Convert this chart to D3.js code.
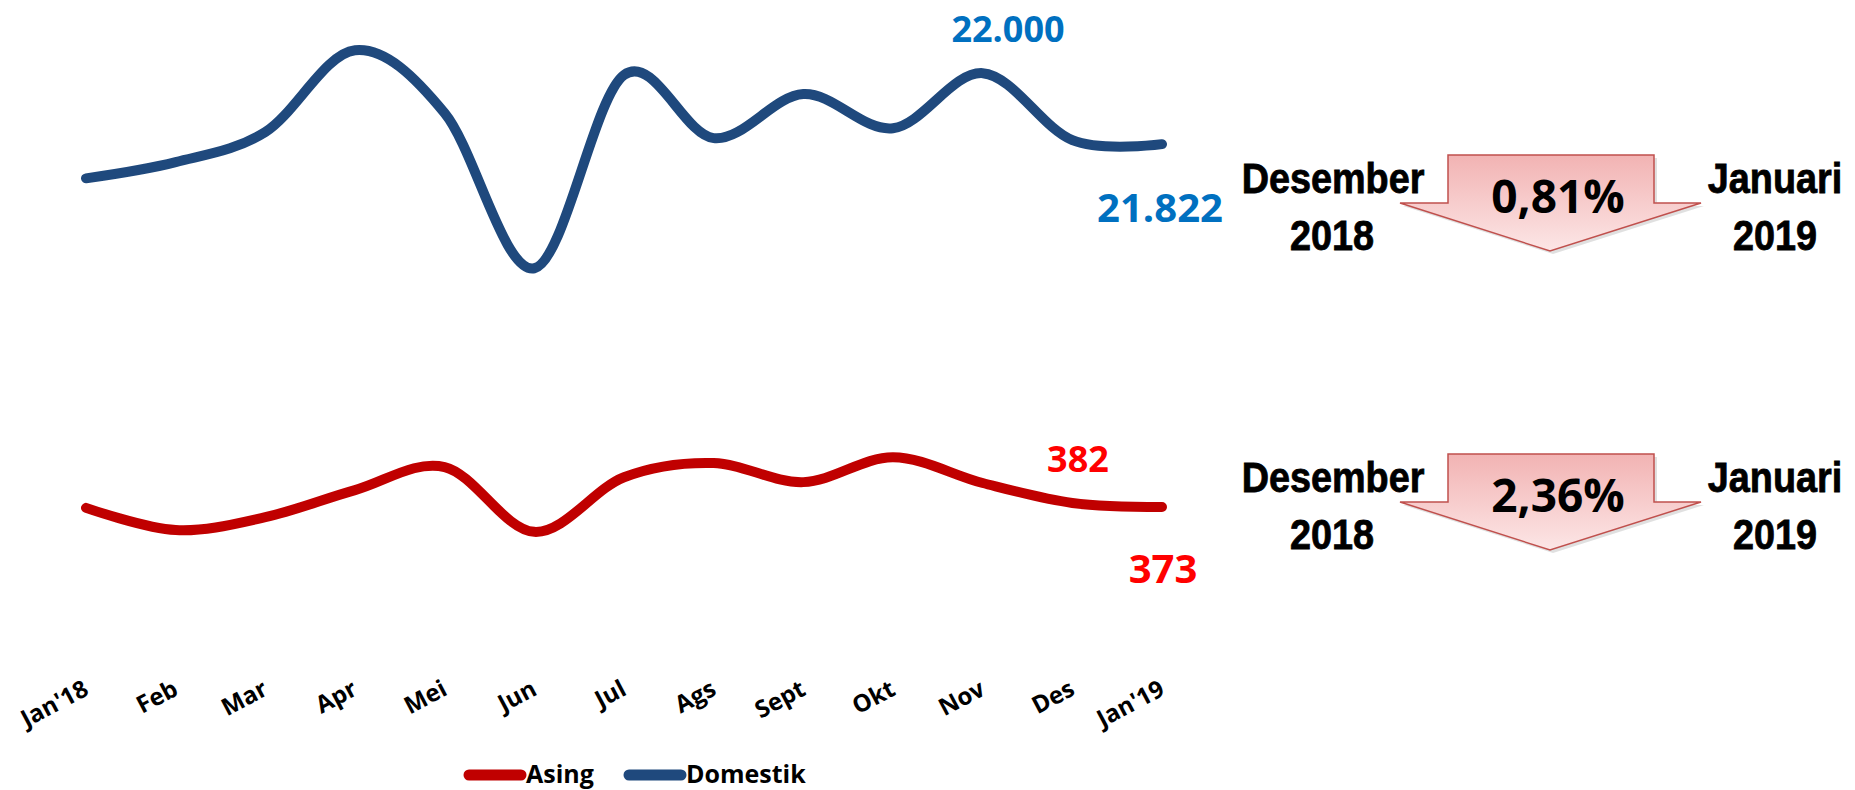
<!DOCTYPE html>
<html>
  <head>
    <meta charset="utf-8">
    <script src="https://d3js.org/d3.v7.min.js"></script>
    <style>
      body { margin: 0; background: white; }
      .tick-label { font-family: "Open Sans", sans-serif; font-weight: bold; font-size: 24px; fill: black; }
      .val { font-family: "Open Sans", sans-serif; font-weight: bold; }
      .side { font-family: "Liberation Sans", sans-serif; font-weight: bold; font-size: 42px; fill: black; stroke: black; stroke-width: 0.8px; }
      .pct { font-family: "Open Sans", sans-serif; font-weight: bold; font-size: 46px; fill: black; }
      .legend { font-family: "Open Sans", sans-serif; font-weight: bold; font-size: 25px; fill: black; }
    </style>
  </head>
  <body>
    <div id="chart"></div>
<script>

var months = ["Jan'18", "Feb", "Mar", "Apr", "Mei", "Jun", "Jul", "Ags", "Sept", "Okt", "Nov", "Des", "Jan'19"];
var domestik = [20300, 21020, 22360, 26000, 23200, 16300, 24900, 22090, 24050, 22530, 24980, 22000, 21822];
var asing = [371, 321, 350, 411, 463, 317, 440, 472, 429, 485, 427, 382, 373];

var domLabels = ["22.000", "21.822"];
var asingLabels = ["382", "373"];
var pctLabels = ["0,81%", "2,36%"];
var fromLabel = ["Desember", "2018"];
var toLabel = ["Januari", "2019"];
var legendNames = ["Asing", "Domestik"];

var width = 1855, height = 790;
var blue = "#1F497D", red = "#C00000";

var svg = d3.select("#chart").append("svg")
  .attr("width", width)
  .attr("height", height);

var x = d3.scalePoint().domain(months).range([86, 1162]);
var yDom = d3.scaleLinear().domain([16000, 26500]).range([275, 39]);
var yAsing = d3.scaleLinear().domain([300, 500]).range([539.4, 450.6]);

var curve = d3.curveCardinal.tension(0);

function drawLine(values, y, color) {
  var line = d3.line()
    .x(function(d, i) { return x(months[i]); })
    .y(function(d) { return y(d); })
    .curve(curve);
  svg.append("path")
    .datum(values)
    .attr("d", line)
    .attr("fill", "none")
    .attr("stroke", color)
    .attr("stroke-width", 10)
    .attr("stroke-linecap", "round")
    .attr("stroke-linejoin", "round");
}

drawLine(domestik, yDom, blue);
drawLine(asing, yAsing, red);

// ---------- value labels -----------
svg.append("text").attr("class", "val")
  .attr("x", 1008).attr("y", 42)
  .attr("text-anchor", "middle")
  .style("font-size", "36px").style("fill", "#0070C0")
  .text(domLabels[0]);
svg.append("text").attr("class", "val")
  .attr("x", 1160).attr("y", 222)
  .attr("text-anchor", "middle")
  .style("font-size", "40px").style("fill", "#0070C0")
  .text(domLabels[1]);
svg.append("text").attr("class", "val")
  .attr("x", 1078).attr("y", 472)
  .attr("text-anchor", "middle")
  .style("font-size", "36px").style("fill", "#FF0000")
  .text(asingLabels[0]);
svg.append("text").attr("class", "val")
  .attr("x", 1163).attr("y", 583)
  .attr("text-anchor", "middle")
  .style("font-size", "40px").style("fill", "#FF0000")
  .text(asingLabels[1]);

// ---------- x axis labels -----------
svg.selectAll(".tick-label")
  .data(months)
  .enter()
  .append("text")
  .attr("class", "tick-label")
  .attr("text-anchor", "end")
  .attr("transform", function(d) { return "translate(" + (x(d) + 4) + ",694) rotate(-28)"; })
  .text(function(d) { return d; });

// ---------- arrows -----------
var defs = svg.append("defs");
var grad = defs.append("linearGradient")
  .attr("id", "pink").attr("x1", 0).attr("y1", 0).attr("x2", 0).attr("y2", 1);
grad.append("stop").attr("offset", "0%").attr("stop-color", "#F2B3B3");
grad.append("stop").attr("offset", "100%").attr("stop-color", "#FCE6E6");

function sideText(cx, y, t) {
  svg.append("text").attr("class", "side")
    .attr("text-anchor", "middle")
    .attr("transform", "translate(" + cx + "," + y + ") scale(0.9,1)")
    .text(t);
}

function panel(top, i) {
  var arrow = [[1448, top], [1654, top], [1654, top + 48], [1701, top + 48],
               [1550, top + 96], [1400, top + 48], [1448, top + 48]];
  svg.append("path")
    .attr("d", "M" + arrow.map(function(p) { return (p[0] + 3) + "," + (p[1] + 3); }).join("L") + "Z")
    .attr("fill", "#000").attr("opacity", 0.12);
  svg.append("path")
    .attr("d", "M" + arrow.join("L") + "Z")
    .attr("fill", "url(#pink)")
    .attr("stroke", "#C0504D")
    .attr("stroke-width", 1.5);

  svg.append("text").attr("class", "pct")
    .attr("x", 1558).attr("y", top + 58)
    .attr("text-anchor", "middle")
    .text(pctLabels[i]);

  sideText(1333, top + 38, fromLabel[0]);
  sideText(1332, top + 95, fromLabel[1]);
  sideText(1775, top + 38, toLabel[0]);
  sideText(1775, top + 95, toLabel[1]);
}
panel(155, 0);
panel(454, 1);

// ---------- legend -----------
var legend = [[464, red, legendNames[0]], [624, blue, legendNames[1]]];
legend.forEach(function(l) {
  svg.append("line")
    .attr("x1", l[0] + 5).attr("x2", l[0] + 57)
    .attr("y1", 775).attr("y2", 775)
    .attr("stroke", l[1]).attr("stroke-width", 11)
    .attr("stroke-linecap", "round");
  svg.append("text").attr("class", "legend")
    .attr("x", l[0] + 62).attr("y", 783)
    .text(l[2]);
});

</script>
  </body>
</html>
